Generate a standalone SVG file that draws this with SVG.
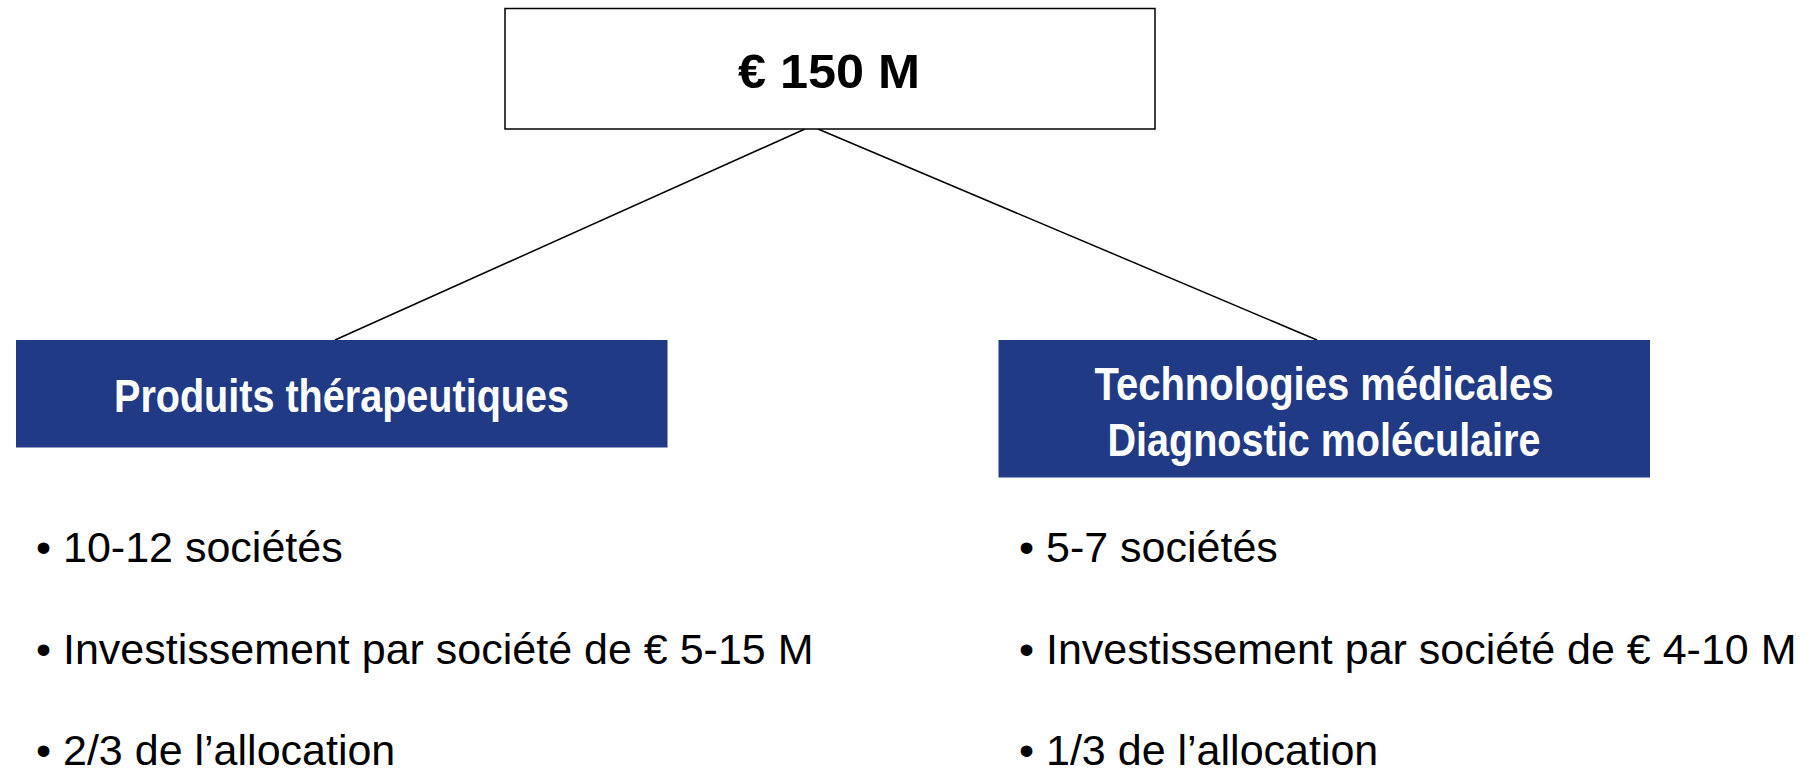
<svg xmlns="http://www.w3.org/2000/svg" width="1814" height="771" viewBox="0 0 1814 771">
<style>
.bg{fill:#ffffff}
.topbox{fill:#ffffff;stroke:#000000;stroke-width:1.5}
.cat{fill:#213A85}
.title{font-family:"Liberation Sans",Arial,sans-serif;font-weight:bold;fill:#000000;text-anchor:middle}
.cattxt{font-family:"Liberation Sans",Arial,sans-serif;font-weight:bold;fill:#ffffff;text-anchor:middle;font-size:46px}
.bullet{font-family:"Liberation Sans",Arial,sans-serif;fill:#000000;font-size:43px}
.conn{stroke:#000000;stroke-width:1.5;fill:none}
</style>
<rect class="bg" x="0" y="0" width="1814" height="771"/>
<g id="connectors">
<line class="conn" x1="805" y1="129" x2="335" y2="340"/>
<line class="conn" x1="818" y1="129" x2="1317" y2="340"/>
</g>
<g id="root">
<rect class="topbox" x="505" y="8.5" width="650" height="120.5"/>
<text class="title" x="829" y="87.5" font-size="48" textLength="182" lengthAdjust="spacingAndGlyphs">€ 150 M</text>
</g>
<g id="therapeutics">
<rect class="cat" x="16" y="340" width="651.5" height="107.5"/>
<text class="cattxt" x="341.5" y="411.5" textLength="455" lengthAdjust="spacingAndGlyphs">Produits thérapeutiques</text>
</g>
<g id="medtech">
<rect class="cat" x="998.5" y="340" width="651.5" height="137.5"/>
<text class="cattxt" x="1324" y="399.5" textLength="459" lengthAdjust="spacingAndGlyphs">Technologies médicales</text>
<text class="cattxt" x="1324" y="456" textLength="433" lengthAdjust="spacingAndGlyphs">Diagnostic moléculaire</text>
</g>
<g id="therapeutics-details">
<text class="bullet" x="36" y="562">• 10-12 sociétés</text>
<text class="bullet" x="36" y="664">• Investissement par société de € 5-15 M</text>
<text class="bullet" x="36" y="765">• 2/3 de l’allocation</text>
</g>
<g id="medtech-details">
<text class="bullet" x="1019" y="562">• 5-7 sociétés</text>
<text class="bullet" x="1019" y="664">• Investissement par société de € 4-10 M</text>
<text class="bullet" x="1019" y="765">• 1/3 de l’allocation</text>
</g>
</svg>
